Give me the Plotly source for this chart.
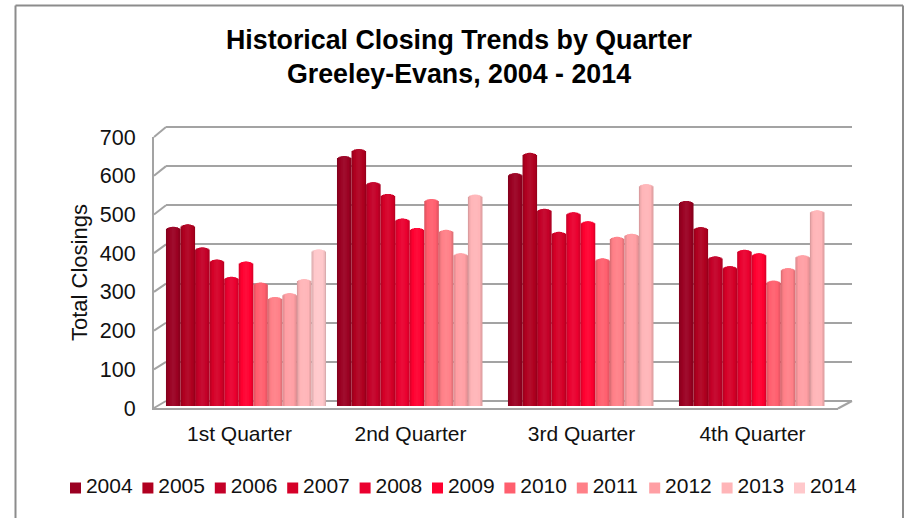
import plotly.graph_objects as go
import math

quarters = ["1st Quarter", "2nd Quarter", "3rd Quarter", "4th Quarter"]
years = ["2004", "2005", "2006", "2007", "2008", "2009", "2010", "2011", "2012", "2013", "2014"]
v2004 = [459, 640, 596, 525]
v2005 = [465, 658, 648, 458]
v2006 = [406, 573, 505, 383]
v2007 = [375, 543, 446, 358]
v2008 = [331, 480, 496, 400]
v2009 = [370, 456, 473, 391]
v2010 = [316, 530, 378, 321]
v2011 = [279, 451, 433, 353]
v2012 = [289, 391, 441, 386]
v2013 = [325, 541, 568, 501]
v2014 = [401, None, None, None]
series = [v2004, v2005, v2006, v2007, v2008, v2009, v2010, v2011, v2012, v2013, v2014]
colors = ["#9a0022", "#b00020", "#c40028", "#d50028", "#ea002f", "#ff0030",
          "#ff5f6e", "#ff8088", "#ff9fa4", "#ffb5b8", "#ffc8cb"]
ticks = [0, 100, 200, 300, 400, 500, 600, 700]

W, H = 905, 518
GRAY = "#a3a3a3"
def px(x): return x / W
def py(y): return 1 - y / H

def shade(c, f):
    r, g, b = int(c[1:3], 16), int(c[3:5], 16), int(c[5:7], 16)
    if f <= 1:
        r, g, b = r * f, g * f, b * f
    else:
        t = f - 1
        r, g, b = r + (255 - r) * t, g + (255 - g) * t, b + (255 - b) * t
    return f"rgb({int(r)},{int(g)},{int(b)})"

fig = go.Figure()

fig.add_trace(go.Scatter(x=[quarters[0]], y=[0], xaxis="x", yaxis="y", mode="markers",
                         marker=dict(opacity=0), showlegend=False, hoverinfo="skip"))
fig.add_trace(go.Scatter(x=[quarters[0]], y=[0], xaxis="x2", yaxis="y2", mode="markers",
                         marker=dict(opacity=0), showlegend=False, hoverinfo="skip"))

SLOT = 14.55 / 171.0
layers = [(1.00, 0.86), (0.86, 0.94), (0.66, 1.00), (0.42, 1.03), (0.20, 1.05)]
DOME = 7
for i, (name, vals, col) in enumerate(zip(years, series, colors)):
    xs = [q for q, v in zip(quarters, vals) if v is not None]
    ys = [v for v in vals if v is not None]
    for frac, f in layers:
        w = SLOT * frac
        drop = DOME * (1 - math.sqrt(max(0, 1 - (frac * 0.97) ** 2)))
        fig.add_trace(go.Bar(
            x=xs, y=[v - drop for v in ys], xaxis="x3", yaxis="y3",
            width=w, offset=(i - 5) * SLOT - w / 2,
            name=name, showlegend=False,
            marker=dict(color=col if f == 1.00 else shade(col, f), line=dict(width=0)),
        ))
    # key: square swatch, then its label a little further out
    fig.add_trace(go.Scatter(
        x=[name], y=[0], xaxis="x4", yaxis="y4", mode="markers",
        marker=dict(symbol="square", size=11, color=col),
        name=name, showlegend=False, cliponaxis=False,
    ))
    fig.add_trace(go.Scatter(
        x=[name], y=[0], xaxis="x4", yaxis="y4", mode="markers+text",
        marker=dict(symbol="square", size=15, opacity=0),
        text=[name], textposition="middle right", textfont=dict(size=21, color="#111111"),
        name=name, showlegend=False, cliponaxis=False, hoverinfo="skip",
    ))

shapes = []
for t in ticks:
    yf = 408 - t * 271 / 700
    yb = 401 - t * 274 / 700
    shapes.append(dict(type="line", xref="paper", yref="paper", x0=px(154), x1=px(166),
                       y0=py(yf), y1=py(yb), line=dict(color=GRAY, width=2), layer="below"))
shapes.append(dict(type="line", xref="paper", yref="paper", x0=px(838), x1=px(852),
                   y0=py(408.5), y1=py(401), line=dict(color=GRAY, width=2), layer="below"))
FRAME = "#8c8c8c"
for x0, y0, x1, y1 in [(15.5, 5.5, 903, 5.5), (15.5, 5.5, 15.5, 518), (903, 5.5, 903, 518)]:
    shapes.append(dict(type="line", xref="paper", yref="paper", x0=px(x0), x1=px(x1),
                       y0=py(y0), y1=py(y1), line=dict(color=FRAME, width=2)))

FONT = "Liberation Sans, Arial, sans-serif"
fig.update_layout(
    template="none",
    width=W, height=H, margin=dict(l=0, r=0, t=0, b=0, autoexpand=False),
    paper_bgcolor="white", plot_bgcolor="rgba(0,0,0,0)",
    barmode="overlay", shapes=shapes, showlegend=False,
    font=dict(family=FONT, color="#111111", size=21),
    title=dict(text="<b>Historical Closing Trends by Quarter<br>Greeley-Evans, 2004 - 2014</b>",
               x=px(459), xanchor="center", y=py(48.5), yanchor="middle",
               font=dict(size=26.8, color="#000000")),
    xaxis=dict(domain=[px(166), px(852)], anchor="y", type="category", categoryorder="array", categoryarray=quarters,
               automargin=False, showgrid=False, showticklabels=False, showline=False, zeroline=False, ticks=""),
    yaxis=dict(domain=[py(401), py(125.04)], anchor="x", range=[0, 705], tickvals=ticks, automargin=False,
               showgrid=True, gridcolor=GRAY, gridwidth=2, showticklabels=False,
               zeroline=True, zerolinecolor=GRAY, zerolinewidth=2, ticks=""),
    xaxis2=dict(domain=[px(154), px(838)], anchor="y2", type="category", categoryorder="array", categoryarray=quarters,
                range=[-0.5, 3.5], automargin=False, showgrid=False, showline=True, linecolor=GRAY, linewidth=2,
                ticks="", ticklabelstandoff=6, zeroline=False),
    yaxis2=dict(domain=[py(408), py(137)], anchor="x2", range=[0, 700], tickvals=ticks, automargin=False,
                showgrid=False, showline=True, linecolor=GRAY, linewidth=2, ticks="",
                ticklabelstandoff=12, zeroline=False, tickfont=dict(size=21.5),
                title=dict(text="Total Closings", font=dict(size=22), standoff=6)),
    xaxis3=dict(domain=[px(160.5), px(844.5)], anchor="y3", type="category", categoryorder="array", categoryarray=quarters,
                range=[-0.5, 3.5], visible=False, automargin=False),
    yaxis3=dict(domain=[py(406), py(132.5)], anchor="x3", range=[0, 700], visible=False, automargin=False),
    xaxis4=dict(domain=[px(75.5), px(799.5)], anchor="y4", type="category", categoryorder="array", categoryarray=years,
                range=[0, 10], visible=False, automargin=False),
    yaxis4=dict(domain=[py(498), py(478)], anchor="x4", range=[-1, 1], visible=False, automargin=False),
)
fig.write_html("out.html", config=dict(displayModeBar=False),
               post_script="document.body.style.margin='0';")
